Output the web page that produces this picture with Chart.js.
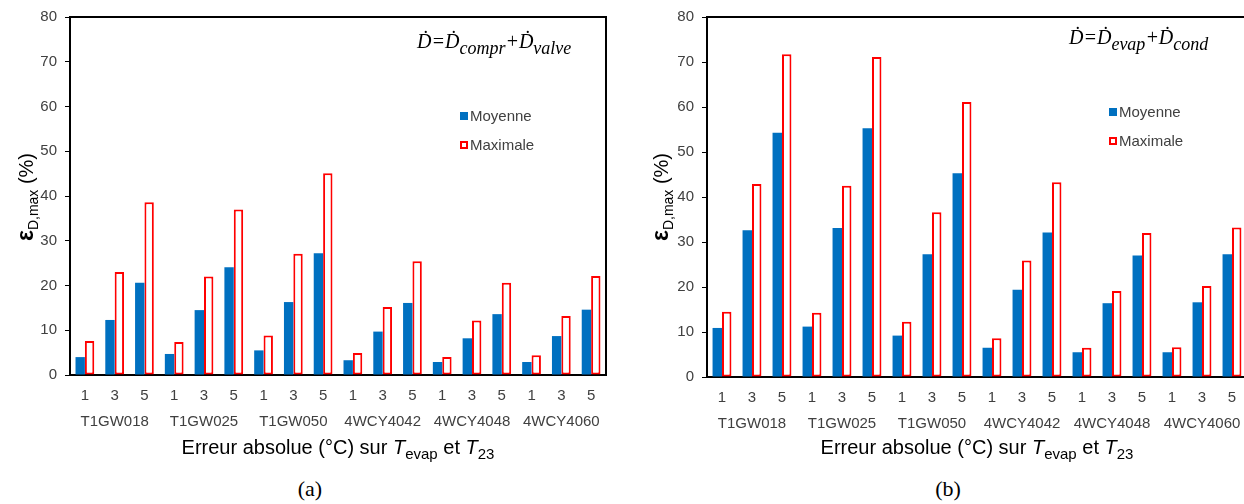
<!DOCTYPE html>
<html>
<head>
<meta charset="utf-8">
<script src="https://cdn.jsdelivr.net/npm/chart.js@4.4.0/dist/chart.umd.min.js"></script>
<style>
  body { margin: 0; width: 1244px; height: 504px; overflow: hidden; background: #fff; position: relative;
         font-family: "Liberation Sans", Arial, sans-serif; }
  canvas { position: absolute; top: 0; }
  .xtitle { position: absolute; top: 436px; width: 440px; text-align: center; font-size: 20px; color: #000; white-space: nowrap; }
  .xtitle sub { font-size: 15px; vertical-align: -5px; }
  .ytitle { position: absolute; width: 160px; height: 30px; line-height: 30px; text-align: center;
            font-size: 20px; color: #000; transform: rotate(-90deg); white-space: nowrap; }
  .ytitle .eps { font-weight: bold; font-size: 23px; }
  .ytitle sub { font-size: 14px; vertical-align: -5px; }
  .panel { position: absolute; top: 476px; width: 60px; text-align: center; font-family: "Liberation Serif", serif; font-size: 22px; }
  .formula { position: absolute; font-family: "Liberation Serif", serif; font-style: italic; font-size: 20px; white-space: nowrap; color: #000; }
  .formula sub { font-size: 18px; vertical-align: -6px; }
</style>
</head>
<body>
<canvas id="chartA" width="612" height="440" style="left:0px"></canvas>
<canvas id="chartB" width="625" height="440" style="left:622px"></canvas>

<div class="ytitle" style="left:-55px; top:182px;"><span class="eps">ε</span><sub>D,max</sub> (%)</div>
<div class="ytitle" style="left:580px; top:182px;"><span class="eps">ε</span><sub>D,max</sub> (%)</div>
<div class="xtitle" style="left:118px;">Erreur absolue (°C) sur <i>T</i><sub>evap</sub> et <i>T</i><sub>23</sub></div>
<div class="xtitle" style="left:757px;">Erreur absolue (°C) sur <i>T</i><sub>evap</sub> et <i>T</i><sub>23</sub></div>
<div class="formula" style="left:417px; top:30px;">Ḋ=Ḋ<sub>compr</sub>+Ḋ<sub>valve</sub></div>
<div class="formula" style="left:1069px; top:26px;">Ḋ=Ḋ<sub>evap</sub>+Ḋ<sub>cond</sub></div>
<div class="panel" style="left:280px;">(a)</div>
<div class="panel" style="left:918px;">(b)</div>

<script>
// categories
const errLevels = ['1', '3', '5', '1', '3', '5', '1', '3', '5', '1', '3', '5', '1', '3', '5', '1', '3', '5'];
const models = ['T1GW018', 'T1GW025', 'T1GW050', '4WCY4042', '4WCY4048', '4WCY4060'];
const yTicks = [0, 10, 20, 30, 40, 50, 60, 70, 80];

// (a) compresseur + vanne
const moyenneA = [4.0, 12.3, 20.6, 4.7, 14.5, 24.1, 5.5, 16.3, 27.2, 3.3, 9.7, 16.1, 2.9, 8.2, 13.6, 2.9, 8.7, 14.6];
const maximaleA = [7.6, 23.0, 38.6, 7.4, 22.0, 37.0, 8.8, 27.1, 45.1, 4.9, 15.2, 25.4, 4.0, 12.2, 20.6, 4.4, 13.2, 22.1];

// (b) evaporateur + condenseur
const moyenneB = [10.9, 32.6, 54.3, 11.2, 33.1, 55.3, 9.2, 27.3, 45.3, 6.5, 19.4, 32.1, 5.5, 16.4, 27.0, 5.5, 16.6, 27.3];
const maximaleB = [14.5, 42.9, 71.7, 14.3, 42.5, 71.1, 12.3, 36.6, 61.1, 8.6, 25.9, 43.3, 6.5, 19.1, 32.0, 6.6, 20.2, 33.2];

const BLUE = '#0070C0';
const RED = '#FF0000';
const TXT = '#404040';
const FONT = '"Liberation Sans", Arial, sans-serif';

// frame on top and right of the plot area
const frame = {
    id: 'frame',
    afterDraw(chart) {
        const a = chart.chartArea, c = chart.ctx;
        c.save();
        c.strokeStyle = '#000';
        c.lineWidth = 2;
        c.beginPath();
        c.moveTo(a.left, a.top);
        c.lineTo(a.right, a.top);
        c.lineTo(a.right, a.bottom);
        c.stroke();
        c.restore();
    }
};

// legend drawn inside the plot
const innerLegend = {
    id: 'innerLegend',
    afterDraw(chart, args, opts) {
        const c = chart.ctx;
        c.save();
        c.font = '15px ' + FONT;
        c.textBaseline = 'middle';
        chart.data.datasets.forEach((ds, i) => {
            const x = opts.x, y = opts.y + i * opts.gap;
            if (ds.borderWidth) {
                c.fillStyle = '#fff';
                c.fillRect(x, y - 4, 8, 8);
                c.strokeStyle = ds.borderColor;
                c.lineWidth = 2;
                c.strokeRect(x + 1, y - 3, 6, 6);
            } else {
                c.fillStyle = ds.backgroundColor;
                c.fillRect(x, y - 4, 8, 8);
            }
            c.fillStyle = TXT;
            c.fillText(ds.label, x + 10, y + 1);
        });
        c.restore();
    }
};

function makeChart(id, moy, max, yWidth, pad, legendPos) {
    return new Chart(document.getElementById(id), {
        type: 'bar',
        data: {
            labels: errLevels,
            datasets: [
                { label: 'Moyenne', data: moy, backgroundColor: BLUE, borderWidth: 0 },
                { label: 'Maximale', data: max, backgroundColor: '#fff', borderColor: RED, borderWidth: 2, borderSkipped: false }
            ]
        },
        options: {
            responsive: false,
            animation: false,
            devicePixelRatio: 1,
            layout: { padding: pad },
            datasets: { bar: { categoryPercentage: 0.63, barPercentage: 1 } },
            plugins: {
                legend: { display: false },
                tooltip: { enabled: false },
                innerLegend: legendPos
            },
            scales: {
                y: {
                    min: 0, max: 80,
                    afterBuildTicks(s) { s.ticks = yTicks.map(v => ({ value: v })); },
                    afterFit(s) { s.width = yWidth; },
                    grid: { drawOnChartArea: false, drawTicks: true, tickLength: 5, color: '#000', lineWidth: 1 },
                    border: { color: '#000', width: 2 },
                    ticks: { color: TXT, padding: 8, font: { family: FONT, size: 15 } }
                },
                x: {
                    weight: 0,
                    afterFit(s) { s.height = 28; },
                    grid: { display: false },
                    border: { color: '#000', width: 2 },
                    ticks: { color: TXT, padding: 4, maxRotation: 0, autoSkip: false, font: { family: FONT, size: 15 } }
                },
                x2: {
                    type: 'category',
                    labels: models,
                    position: 'bottom',
                    weight: 1,
                    offset: true,
                    afterFit(s) { s.height = 34; },
                    grid: { display: false },
                    border: { display: false },
                    ticks: { color: TXT, padding: 2, maxRotation: 0, autoSkip: false, font: { family: FONT, size: 15 } }
                }
            }
        },
        plugins: [frame, innerLegend]
    });
}

makeChart('chartA', moyenneA, maximaleA, 70, { left: 0, right: 6, top: 13, bottom: 3 }, { x: 460, y: 116, gap: 29 });
makeChart('chartB', moyenneB, maximaleB, 85, { left: 0, right: 0, top: 13, bottom: 1 }, { x: 487, y: 112, gap: 29 });
</script>
</body>
</html>
